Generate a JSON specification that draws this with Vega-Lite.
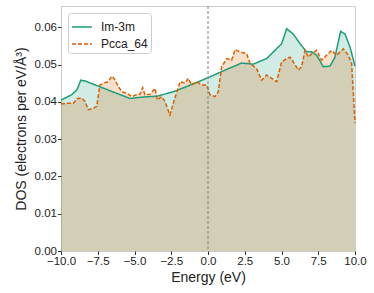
{
  "$schema": "https://vega.github.io/schema/vega-lite/v6.json",
  "width": 294,
  "height": 245,
  "autosize": "none",
  "padding": {"left": 61, "top": 6, "right": 19, "bottom": 42},
  "config": {
    "view": {"stroke": "#cccccc", "strokeWidth": 1},
    "font": "Liberation Sans",
    "axis": {"grid": false, "domain": false, "tickColor": "#333333", "tickSize": 3.5, "labelFontSize": 11.5, "labelColor": "#222222", "titleFontSize": 14, "titleFontWeight": "normal", "titleColor": "#222222", "labelPadding": 1, "labelOverlap": false, "labelFlush": false},
    "legend": {"symbolType": "stroke", "symbolSize": 400, "symbolStrokeWidth": 1.5, "labelFontSize": 12, "labelColor": "#222222", "strokeColor": "#cccccc", "fillColor": "white", "cornerRadius": 3, "padding": 3, "rowPadding": 0, "labelOffset": 8}
  },
  "data": {"values": [
    {"E": -10, "v": 0.0405, "s": "Im-3m"},
    {"E": -9.27, "v": 0.0419, "s": "Im-3m"},
    {"E": -8.89, "v": 0.0434, "s": "Im-3m"},
    {"E": -8.66, "v": 0.0458, "s": "Im-3m"},
    {"E": -8.37, "v": 0.0456, "s": "Im-3m"},
    {"E": -5.31, "v": 0.0409, "s": "Im-3m"},
    {"E": -4.4, "v": 0.0413, "s": "Im-3m"},
    {"E": -3.49, "v": 0.0415, "s": "Im-3m"},
    {"E": -2.36, "v": 0.0427, "s": "Im-3m"},
    {"E": -1.45, "v": 0.0441, "s": "Im-3m"},
    {"E": 0.02, "v": 0.0465, "s": "Im-3m"},
    {"E": 1.27, "v": 0.0487, "s": "Im-3m"},
    {"E": 2.29, "v": 0.0504, "s": "Im-3m"},
    {"E": 3.08, "v": 0.0501, "s": "Im-3m"},
    {"E": 3.99, "v": 0.0516, "s": "Im-3m"},
    {"E": 5.01, "v": 0.0556, "s": "Im-3m"},
    {"E": 5.35, "v": 0.0596, "s": "Im-3m"},
    {"E": 5.8, "v": 0.0582, "s": "Im-3m"},
    {"E": 6.26, "v": 0.0556, "s": "Im-3m"},
    {"E": 6.71, "v": 0.0534, "s": "Im-3m"},
    {"E": 7.05, "v": 0.0534, "s": "Im-3m"},
    {"E": 7.39, "v": 0.0525, "s": "Im-3m"},
    {"E": 7.85, "v": 0.0494, "s": "Im-3m"},
    {"E": 8.3, "v": 0.0496, "s": "Im-3m"},
    {"E": 8.64, "v": 0.052, "s": "Im-3m"},
    {"E": 9.02, "v": 0.0589, "s": "Im-3m"},
    {"E": 9.32, "v": 0.0582, "s": "Im-3m"},
    {"E": 9.66, "v": 0.0547, "s": "Im-3m"},
    {"E": 10, "v": 0.0496, "s": "Im-3m"},
    {"E": -10, "v": 0.0394, "s": "Pcca_64"},
    {"E": -9.61, "v": 0.0396, "s": "Pcca_64"},
    {"E": -9.16, "v": 0.0396, "s": "Pcca_64"},
    {"E": -8.89, "v": 0.0409, "s": "Pcca_64"},
    {"E": -8.59, "v": 0.041, "s": "Pcca_64"},
    {"E": -8.37, "v": 0.0401, "s": "Pcca_64"},
    {"E": -8.14, "v": 0.0379, "s": "Pcca_64"},
    {"E": -7.8, "v": 0.0383, "s": "Pcca_64"},
    {"E": -7.57, "v": 0.0388, "s": "Pcca_64"},
    {"E": -7.35, "v": 0.0445, "s": "Pcca_64"},
    {"E": -7.01, "v": 0.0451, "s": "Pcca_64"},
    {"E": -6.78, "v": 0.0454, "s": "Pcca_64"},
    {"E": -6.55, "v": 0.0469, "s": "Pcca_64"},
    {"E": -6.39, "v": 0.0463, "s": "Pcca_64"},
    {"E": -6.1, "v": 0.0441, "s": "Pcca_64"},
    {"E": -5.87, "v": 0.0427, "s": "Pcca_64"},
    {"E": -5.53, "v": 0.0423, "s": "Pcca_64"},
    {"E": -5.19, "v": 0.0414, "s": "Pcca_64"},
    {"E": -4.85, "v": 0.0419, "s": "Pcca_64"},
    {"E": -4.63, "v": 0.042, "s": "Pcca_64"},
    {"E": -4.44, "v": 0.0438, "s": "Pcca_64"},
    {"E": -4.29, "v": 0.0419, "s": "Pcca_64"},
    {"E": -3.95, "v": 0.042, "s": "Pcca_64"},
    {"E": -3.6, "v": 0.0436, "s": "Pcca_64"},
    {"E": -3.45, "v": 0.0405, "s": "Pcca_64"},
    {"E": -3.15, "v": 0.0414, "s": "Pcca_64"},
    {"E": -2.93, "v": 0.0401, "s": "Pcca_64"},
    {"E": -2.59, "v": 0.0365, "s": "Pcca_64"},
    {"E": -2.36, "v": 0.0396, "s": "Pcca_64"},
    {"E": -1.9, "v": 0.0454, "s": "Pcca_64"},
    {"E": -1.56, "v": 0.045, "s": "Pcca_64"},
    {"E": -1.34, "v": 0.0463, "s": "Pcca_64"},
    {"E": -1.11, "v": 0.0445, "s": "Pcca_64"},
    {"E": -0.77, "v": 0.0454, "s": "Pcca_64"},
    {"E": -0.43, "v": 0.0445, "s": "Pcca_64"},
    {"E": -0.09, "v": 0.0445, "s": "Pcca_64"},
    {"E": 0.13, "v": 0.0419, "s": "Pcca_64"},
    {"E": 0.48, "v": 0.0414, "s": "Pcca_64"},
    {"E": 0.7, "v": 0.0427, "s": "Pcca_64"},
    {"E": 0.93, "v": 0.0494, "s": "Pcca_64"},
    {"E": 1.27, "v": 0.0516, "s": "Pcca_64"},
    {"E": 1.61, "v": 0.0512, "s": "Pcca_64"},
    {"E": 1.84, "v": 0.054, "s": "Pcca_64"},
    {"E": 2.18, "v": 0.0534, "s": "Pcca_64"},
    {"E": 2.63, "v": 0.0529, "s": "Pcca_64"},
    {"E": 2.86, "v": 0.0503, "s": "Pcca_64"},
    {"E": 3.31, "v": 0.0489, "s": "Pcca_64"},
    {"E": 3.65, "v": 0.0458, "s": "Pcca_64"},
    {"E": 3.99, "v": 0.0472, "s": "Pcca_64"},
    {"E": 4.33, "v": 0.0463, "s": "Pcca_64"},
    {"E": 4.67, "v": 0.0454, "s": "Pcca_64"},
    {"E": 5.01, "v": 0.0507, "s": "Pcca_64"},
    {"E": 5.35, "v": 0.0516, "s": "Pcca_64"},
    {"E": 5.58, "v": 0.052, "s": "Pcca_64"},
    {"E": 5.8, "v": 0.0507, "s": "Pcca_64"},
    {"E": 6.15, "v": 0.0485, "s": "Pcca_64"},
    {"E": 6.37, "v": 0.0494, "s": "Pcca_64"},
    {"E": 6.6, "v": 0.0538, "s": "Pcca_64"},
    {"E": 6.83, "v": 0.052, "s": "Pcca_64"},
    {"E": 7.05, "v": 0.0529, "s": "Pcca_64"},
    {"E": 7.39, "v": 0.0538, "s": "Pcca_64"},
    {"E": 7.73, "v": 0.0512, "s": "Pcca_64"},
    {"E": 8.07, "v": 0.0525, "s": "Pcca_64"},
    {"E": 8.41, "v": 0.0538, "s": "Pcca_64"},
    {"E": 8.75, "v": 0.0525, "s": "Pcca_64"},
    {"E": 9.21, "v": 0.0542, "s": "Pcca_64"},
    {"E": 9.55, "v": 0.0525, "s": "Pcca_64"},
    {"E": 9.77, "v": 0.0503, "s": "Pcca_64"},
    {"E": 10, "v": 0.0343, "s": "Pcca_64"}
  ]},
  "encoding": {
    "x": {"field": "E", "type": "quantitative", "scale": {"domain": [-10, 10], "nice": false, "zero": false}, "axis": {"values": [-10, -7.5, -5, -2.5, 0, 2.5, 5, 7.5, 10], "format": ".1f", "title": "Energy (eV)", "titlePadding": 3}},
    "y": {"field": "v", "type": "quantitative", "stack": null, "scale": {"domain": [0, 0.0657], "nice": false}, "axis": {"values": [0, 0.01, 0.02, 0.03, 0.04, 0.05, 0.06], "format": ".2f", "title": "DOS (electrons per eV/Å³)", "titlePadding": 6}},
    "color": {"field": "s", "type": "nominal", "scale": {"domain": ["Im-3m", "Pcca_64"], "range": ["#1b9e77", "#d95f02"]}, "legend": {"title": null, "orient": "top-left", "offset": 7}}
  },
  "layer": [
    {
      "mark": {"type": "area", "fillOpacity": 0.2}
    },
    {
      "mark": {"type": "line", "strokeWidth": 1.5},
      "encoding": {
        "strokeDash": {"field": "s", "type": "nominal", "scale": {"domain": ["Im-3m", "Pcca_64"], "range": [[1, 0], [4, 2]]}, "legend": {"title": null, "orient": "top-left", "offset": 7}}
      }
    },
    {
      "data": {"values": [{"E": 0}]},
      "mark": {"type": "rule", "color": "#808080", "strokeDash": [3, 2], "strokeWidth": 1},
      "encoding": {"x": {"field": "E", "type": "quantitative"}, "y": null, "color": null}
    }
  ]
}
